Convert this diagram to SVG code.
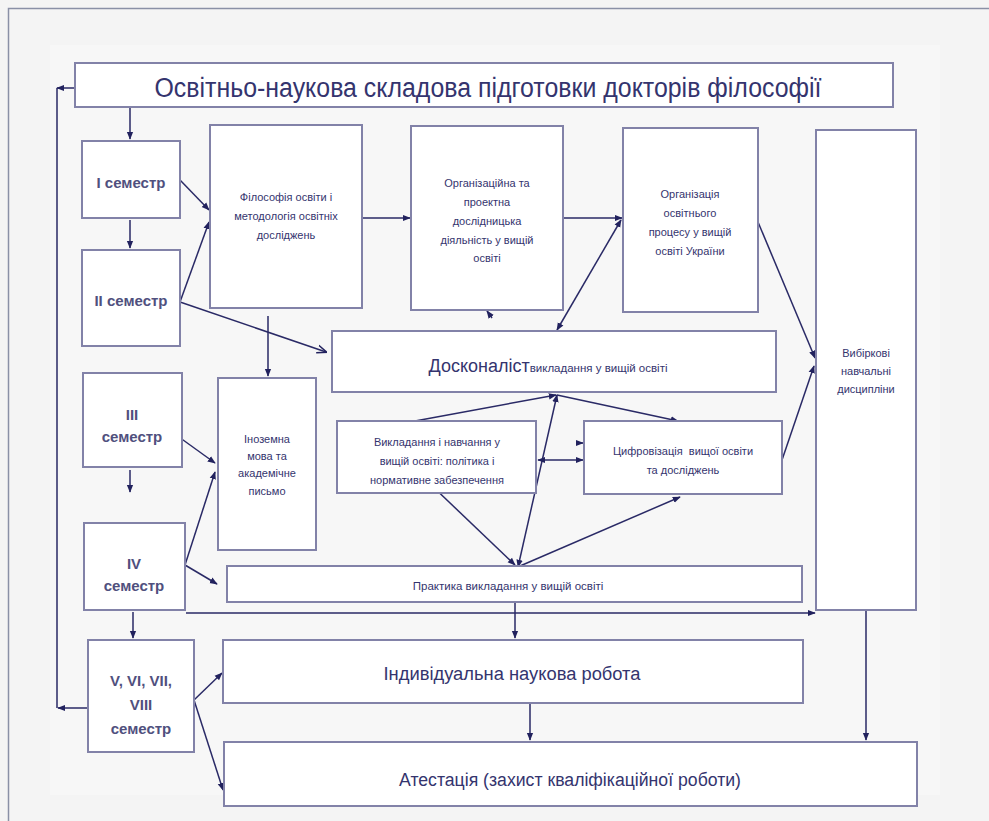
<svg xmlns="http://www.w3.org/2000/svg" width="989" height="821" viewBox="0 0 989 821">
<defs>
<style>
.bx{fill:#ffffff;stroke:#8282a8;stroke-width:2}
.t{font-family:"Liberation Sans",Arial,sans-serif;fill:#34346e;text-anchor:middle}
.s{font-size:11px}
.sem{font-size:15px;font-weight:bold;fill:#50507e}
.big{font-size:18px}
.c{fill:none;stroke:#2a2a66;stroke-width:1.5}
</style>
<marker id="ah" viewBox="0 0 10 10" refX="9" refY="5" markerWidth="8" markerHeight="8" markerUnits="userSpaceOnUse" orient="auto-start-reverse"><path d="M0,1 L10,5 L0,9 z" fill="#22225e"/></marker>
<marker id="oa" viewBox="0 0 10 10" refX="9" refY="5" markerWidth="10" markerHeight="10" markerUnits="userSpaceOnUse" orient="auto"><path d="M0,1 L10,5 L0,9" fill="none" stroke="#22225e" stroke-width="1.5"/></marker>
</defs>
<rect x="0" y="0" width="989" height="821" fill="#f4f4f4"/>
<rect x="50" y="45" width="890" height="750" fill="#f7f7f7"/>
<path d="M8.5,821 V8.5 H989" fill="none" stroke="#8a90a6" stroke-width="1.5"/>

<g id="connectors">
<path class="c" d="M130,108 V139" marker-end="url(#ah)"/>
<path class="c" d="M130,220 V248" marker-end="url(#ah)"/>
<path class="c" d="M130,470 V492" marker-end="url(#ah)"/>
<path class="c" d="M133,612 V638" marker-end="url(#ah)"/>
<path class="c" d="M180,180 L209,210" marker-end="url(#ah)"/>
<path class="c" d="M180,302 L209,222" marker-end="url(#ah)"/>
<path class="c" d="M180,302 L326,352" marker-end="url(#oa)"/>
<path class="c" d="M268,316 V376" marker-end="url(#ah)"/>
<path class="c" d="M362,218 H410" marker-end="url(#ah)"/>
<path class="c" d="M563,218 H622" marker-end="url(#ah)"/>
<path class="c" d="M557,330 L621,220" marker-start="url(#ah)" marker-end="url(#ah)"/>
<path class="c" d="M492,318 L487,311" marker-end="url(#ah)"/>
<path class="c" d="M758,222 L815,358" marker-end="url(#ah)"/>
<path class="c" d="M782,460 L814,366" marker-end="url(#ah)"/>
<path class="c" d="M172,432 L215,463" marker-end="url(#ah)"/>
<path class="c" d="M185,565 L215,472" marker-end="url(#ah)"/>
<path class="c" d="M185,565 L217,584" marker-end="url(#ah)"/>
<path class="c" d="M415,421 L556,395" marker-end="url(#ah)"/>
<path class="c" d="M557,395 L678,421" marker-end="url(#ah)"/>
<path class="c" d="M518,567 L557,395" marker-start="url(#ah)" marker-end="url(#ah)"/>
<path class="c" d="M538,460 H583" marker-start="url(#ah)" marker-end="url(#ah)"/>
<path class="c" d="M578,443 H583" marker-end="url(#ah)"/>
<path class="c" d="M427,481 L515,565" marker-end="url(#ah)"/>
<path class="c" d="M520,566 L680,497" marker-end="url(#ah)"/>
<path class="c" d="M515,602 V638" marker-end="url(#ah)"/>
<path class="c" d="M530,703 V740" marker-end="url(#ah)"/>
<path class="c" d="M866,610 V740" marker-end="url(#ah)"/>
<path class="c" d="M186,613 H815" marker-end="url(#ah)"/>
<path class="c" d="M194,700 L222,673" marker-end="url(#ah)"/>
<path class="c" d="M194,700 L223,790" marker-end="url(#ah)"/>
<path class="c" d="M75,88 H57" marker-end="url(#ah)"/>
<path class="c" d="M57,88 V708"/>
<path class="c" d="M88,708 H58" marker-end="url(#ah)"/>
</g>

<g id="title"><rect class="bx" x="75" y="63" width="818" height="44"/>
<text class="t" x="488" y="97" font-size="27" textLength="667" lengthAdjust="spacingAndGlyphs">Освітньо-наукова складова підготовки докторів філософії</text></g>

<g id="sem1"><rect class="bx" x="82" y="141" width="98" height="77"/>
<text class="t sem" x="131" y="188">I семестр</text></g>
<g id="sem2"><rect class="bx" x="82" y="250" width="98" height="96"/>
<text class="t sem" x="131" y="306">II семестр</text></g>
<g id="sem3"><rect class="bx" x="83" y="373" width="99" height="94"/>
<text class="t sem" x="132" y="420">III</text><text class="t sem" x="132" y="442">семестр</text></g>
<g id="sem4"><rect class="bx" x="84" y="523" width="101" height="87"/>
<text class="t sem" x="134" y="569">IV</text><text class="t sem" x="134" y="591">семестр</text></g>
<g id="sem5"><rect class="bx" x="88" y="640" width="106" height="112"/>
<text class="t sem" x="141" y="686">V, VI, VII,</text><text class="t sem" x="141" y="710">VIII</text><text class="t sem" x="141" y="734">семестр</text></g>

<g id="philosophy"><rect class="bx" x="210" y="125" width="152" height="183"/>
<text class="t s" x="286" y="201">Філософія освіти і</text><text class="t s" x="286" y="220">методологія освітніх</text><text class="t s" x="286" y="239">досліджень</text></g>

<g id="foreign"><rect class="bx" x="218" y="378" width="98" height="172"/>
<text class="t s" x="267" y="443">Іноземна</text><text class="t s" x="267" y="460">мова та</text><text class="t s" x="267" y="477">академічне</text><text class="t s" x="267" y="495">письмо</text></g>

<g id="org-project"><rect class="bx" x="411" y="126" width="152" height="184"/>
<text class="t s" x="487" y="187">Організаційна та</text><text class="t s" x="487" y="206">проектна</text><text class="t s" x="487" y="225">дослідницька</text><text class="t s" x="487" y="244">діяльність  у вищій</text><text class="t s" x="487" y="262">освіті</text></g>

<g id="org-process"><rect class="bx" x="623" y="128" width="135" height="184"/>
<text class="t s" x="690" y="198">Організація</text><text class="t s" x="690" y="217">освітнього</text><text class="t s" x="690" y="236">процесу у вищій</text><text class="t s" x="690" y="255">освіті України</text></g>

<g id="elective"><rect class="bx" x="816" y="130" width="100" height="480"/>
<text class="t s" x="866" y="357">Вибіркові</text><text class="t s" x="866" y="375">навчальні</text><text class="t s" x="866" y="393">дисципліни</text></g>

<g id="excellence"><rect class="bx" x="332" y="331" width="444" height="61"/>
<text class="t" x="548" y="372" text-anchor="middle"><tspan font-size="18">Досконаліст</tspan><tspan font-size="11.5">викладання у вищій освіті</tspan></text></g>

<g id="teaching"><rect class="bx" x="337" y="421" width="199" height="72"/>
<text class="t s" x="437" y="446">Викладання і навчання у</text><text class="t s" x="437" y="465">вищій освіті: політика і</text><text class="t s" x="437" y="484">нормативне забезпечення</text></g>

<g id="digital"><rect class="bx" x="584" y="421" width="198" height="73"/>
<text class="t s" x="683" y="455" xml:space="preserve">Цифровізація  вищої освіти</text><text class="t s" x="683" y="474">та досліджень</text></g>

<g id="practice"><rect class="bx" x="227" y="566" width="575" height="36"/>
<text class="t" x="508" y="590" font-size="11.5">Практика викладання у вищій освіті</text></g>

<g id="research"><rect class="bx" x="223" y="640" width="580" height="63"/>
<text class="t big" x="512" y="680" textLength="257" lengthAdjust="spacingAndGlyphs">Індивідуальна наукова робота</text></g>

<g id="attestation"><rect class="bx" x="224" y="742" width="693" height="64"/>
<text class="t big" x="570" y="786" textLength="342" lengthAdjust="spacingAndGlyphs">Атестація (захист кваліфікаційної роботи)</text></g>
</svg>
